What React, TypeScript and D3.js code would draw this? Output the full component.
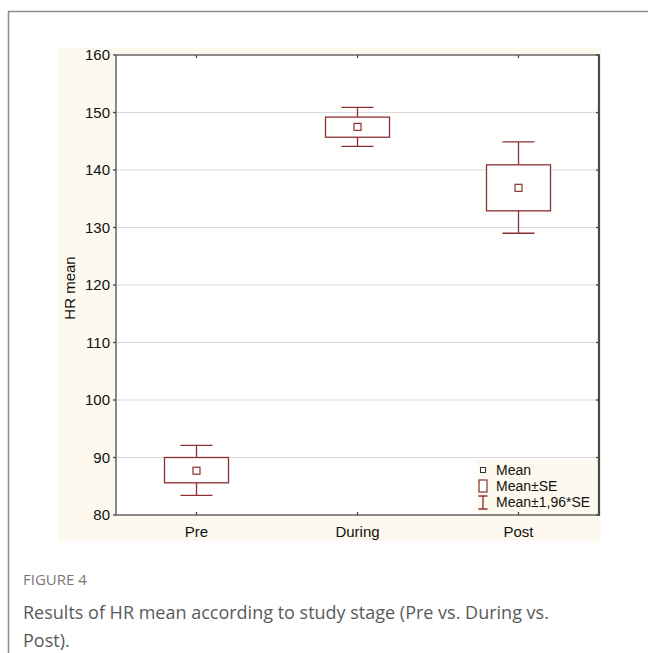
import React, { useRef, useEffect } from 'react';
import * as d3 from 'd3';

const stages = ['Pre', 'During', 'Post'];
const means = [87.7, 147.5, 136.9];
const seLow = [85.6, 145.7, 132.9];
const seHigh = [90.0, 149.2, 140.9];
const ciLow = [83.4, 144.1, 129.0];
const ciHigh = [92.1, 150.9, 144.9];
const yTicks = [80, 90, 100, 110, 120, 130, 140, 150, 160];

const legendItems = ['Mean', 'Mean±SE', 'Mean±1,96*SE'];

const App = () => {
  const svgRef = useRef<SVGSVGElement | null>(null);

  useEffect(() => {
    const width = 648;
    const height = 653;
    const left = 116;
    const right = 599;
    const top = 55;
    const bottom = 515;
    const red = '#8e2f2f';

    const svg = d3.select(svgRef.current);
    svg.selectAll('*').remove();
    svg.attr('width', width).attr('height', height);

    // outer frame
    svg
      .append('path')
      .attr('d', `M8.5,${height} L8.5,11.5 L${width},11.5`)
      .attr('fill', 'none')
      .attr('stroke', '#8a8a8a')
      .attr('stroke-width', 1.5);

    // cream panel
    svg
      .append('rect')
      .attr('x', 58)
      .attr('y', 48)
      .attr('width', 543)
      .attr('height', 493)
      .attr('fill', '#fdf9ee');

    const x = d3.scaleBand().domain(stages).range([left, right]);
    const y = d3.scaleLinear().domain([80, 160]).range([bottom, top]);
    const cx = (d: string) => (x(d) as number) + x.bandwidth() / 2;

    svg
      .append('rect')
      .attr('x', left)
      .attr('y', top)
      .attr('width', right - left)
      .attr('height', bottom - top)
      .attr('fill', '#fff');

    // grid
    svg
      .selectAll('line.grid')
      .data(yTicks.filter(t => t > 80 && t < 160))
      .join('line')
      .attr('class', 'grid')
      .attr('x1', left)
      .attr('x2', right)
      .attr('y1', d => y(d))
      .attr('y2', d => y(d))
      .attr('stroke', '#d9d9d9')
      .attr('stroke-width', 1);

    // legend box (inside plot, bottom right)
    const lg = svg.append('g');
    lg.append('rect')
      .attr('x', 477)
      .attr('y', 460)
      .attr('width', right - 477)
      .attr('height', bottom - 460)
      .attr('fill', '#fdf9ee');

    // boxes
    const g = svg.append('g').selectAll('g').data(stages).join('g');
    g.append('line')
      .attr('x1', d => cx(d))
      .attr('x2', d => cx(d))
      .attr('y1', (d, i) => y(ciHigh[i]))
      .attr('y2', (d, i) => y(ciLow[i]))
      .attr('stroke', red)
      .attr('stroke-width', 1.3);
    g.selectAll('line.cap')
      .data((d, i) => [ciHigh[i], ciLow[i]].map(v => ({ d, v })))
      .join('line')
      .attr('class', 'cap')
      .attr('x1', o => cx(o.d) - 16)
      .attr('x2', o => cx(o.d) + 16)
      .attr('y1', o => y(o.v))
      .attr('y2', o => y(o.v))
      .attr('stroke', red)
      .attr('stroke-width', 1.3);
    g.append('rect')
      .attr('x', d => cx(d) - 32)
      .attr('width', 64)
      .attr('y', (d, i) => y(seHigh[i]))
      .attr('height', (d, i) => y(seLow[i]) - y(seHigh[i]))
      .attr('fill', '#fff')
      .attr('stroke', red)
      .attr('stroke-width', 1.3);
    g.append('rect')
      .attr('x', d => cx(d) - 3.5)
      .attr('width', 7)
      .attr('y', (d, i) => y(means[i]) - 3.5)
      .attr('height', 7)
      .attr('fill', '#fff')
      .attr('stroke', red)
      .attr('stroke-width', 1.2);

    // axes frame
    svg
      .append('rect')
      .attr('x', left)
      .attr('y', top)
      .attr('width', right - left)
      .attr('height', bottom - top)
      .attr('fill', 'none')
      .attr('stroke', '#5a5a5a')
      .attr('stroke-width', 1.4);
    svg
      .append('line')
      .attr('x1', right)
      .attr('x2', right)
      .attr('y1', top - 0.7)
      .attr('y2', bottom + 0.7)
      .attr('stroke', '#4a4a4a')
      .attr('stroke-width', 2.2);

    // ticks
    const tickG = svg.append('g').attr('stroke', '#4a4a4a').attr('stroke-width', 1.3);
    stages.forEach(s => {
      tickG.append('line').attr('x1', cx(s)).attr('x2', cx(s)).attr('y1', top).attr('y2', top + 3);
      tickG.append('line').attr('x1', cx(s)).attr('x2', cx(s)).attr('y1', bottom).attr('y2', bottom - 3);
    });
    yTicks.forEach(t => {
      tickG.append('line').attr('x1', right).attr('x2', right - 3).attr('y1', y(t)).attr('y2', y(t));
      tickG.append('line').attr('x1', left).attr('x2', left - 3).attr('y1', y(t)).attr('y2', y(t));
    });

    const font = 'Liberation Sans, Arial, sans-serif';

    svg
      .append('g')
      .selectAll('text')
      .data(yTicks)
      .join('text')
      .attr('x', left - 6)
      .attr('y', d => y(d))
      .attr('dy', '0.35em')
      .attr('text-anchor', 'end')
      .style('font-family', font)
      .style('font-size', '15px')
      .attr('fill', '#111')
      .text(d => d);

    svg
      .append('g')
      .selectAll('text')
      .data(stages)
      .join('text')
      .attr('x', d => cx(d))
      .attr('y', bottom + 22)
      .attr('text-anchor', 'middle')
      .style('font-family', font)
      .style('font-size', '15px')
      .attr('fill', '#111')
      .text(d => d);

    svg
      .append('text')
      .attr('transform', `translate(75, ${(top + bottom) / 2 + 3}) rotate(-90)`)
      .attr('text-anchor', 'middle')
      .style('font-family', font)
      .style('font-size', '15px')
      .attr('fill', '#111')
      .text('HR mean');

    // legend entries
    const ly = [470, 486, 502];
    lg.append('rect').attr('x', 480.5).attr('y', ly[0] - 2.5).attr('width', 5).attr('height', 5)
      .attr('fill', '#fff').attr('stroke', '#333').attr('stroke-width', 1);
    lg.append('rect').attr('x', 479).attr('y', ly[1] - 6).attr('width', 8).attr('height', 12)
      .attr('fill', '#fff').attr('stroke', red).attr('stroke-width', 1.2);
    lg.append('path')
      .attr('d', `M478.5,${ly[2] - 6} L487.5,${ly[2] - 6} M483,${ly[2] - 6} L483,${ly[2] + 7} M478.5,${ly[2] + 7} L487.5,${ly[2] + 7}`)
      .attr('fill', 'none')
      .attr('stroke', red)
      .attr('stroke-width', 1.3);
    lg.selectAll('text')
      .data(legendItems)
      .join('text')
      .attr('x', 496)
      .attr('y', (d, i) => ly[i])
      .attr('dy', '0.35em')
      .style('font-family', font)
      .style('font-size', '14px')
      .attr('fill', '#111')
      .text(d => d);

    // caption
    const capFont = 'Open Sans, sans-serif';
    svg
      .append('text')
      .attr('x', 23)
      .attr('y', 585)
      .style('font-family', capFont)
      .style('font-size', '15px')
      .attr('fill', '#777')
      .text('FIGURE 4');
    svg
      .append('g')
      .selectAll('text')
      .data(['Results of HR mean according to study stage (Pre vs. During vs.', 'Post).'])
      .join('text')
      .attr('x', 23)
      .attr('y', (d, i) => 619 + i * 28)
      .style('font-family', capFont)
      .style('font-size', '18px')
      .attr('fill', '#5a5a5a')
      .text(d => d);
  }, []);

  return <svg ref={svgRef} style={{ position: 'absolute', left: 0, top: 0 }}></svg>;
};

export default App;
